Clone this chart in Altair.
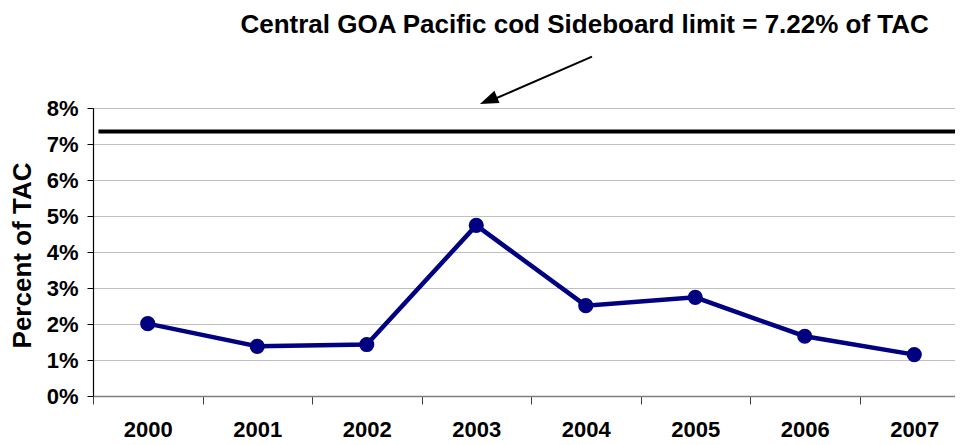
import altair as alt
import pandas as pd

years = [2000, 2001, 2002, 2003, 2004, 2005, 2006, 2007]
percent_of_tac = [2.01, 1.38, 1.43, 4.74, 2.51, 2.74, 1.66, 1.15]
limit_value = 7.35
title_text = "Central GOA Pacific cod Sideboard limit = 7.22% of TAC"
y_ticks = [0, 1, 2, 3, 4, 5, 6, 7, 8]
x_ticks = [1999.5, 2000, 2000.5, 2001, 2001.5, 2002, 2002.5, 2003, 2003.5,
           2004, 2004.5, 2005, 2005.5, 2006, 2006.5, 2007]

X_DOM = [1999.5, 2007.372]
Y_DOM = [0, 8]
FONT = "Liberation Sans"

df = pd.DataFrame({"year": years, "pct": percent_of_tac})
df_limit = pd.DataFrame({"year": [1999.55], "x2": [2007.372], "pct": [limit_value]})
df_arrow = pd.DataFrame({"year": [2004.057], "pct": [9.425], "x2": [2003.15], "y2": [8.23]})
df_head = pd.DataFrame({"year": [2003.12], "pct": [8.22]})
df_title = pd.DataFrame({"year": [2003.99], "pct": [10.3], "t": [title_text]})

xs = alt.Scale(domain=X_DOM, nice=False, zero=False)
ys = alt.Scale(domain=Y_DOM, nice=False, zero=False)

x_axis = alt.Axis(
    values=x_ticks, grid=False, domainColor="#808080", domainWidth=1.5,
    tickColor="#404040", tickSize=8, tickWidth=1,
    tickOpacity={"condition": {"test": "datum.value % 1 === 0", "value": 0}, "value": 1},
    labelExpr="datum.value % 1 === 0 ? '' + datum.value : ''",
    labelFont=FONT, labelFontSize=22, labelFontWeight="bold", labelColor="black",
    labelPadding=15, labelOverlap=False, labelFlush=False)
y_axis = alt.Axis(
    values=y_ticks, grid=True, gridColor="#c0c0c0", gridWidth=1.2,
    domainColor="black", domainWidth=1.2, tickColor="black", tickSize=6,
    labelExpr="datum.value + '%'", labelFont=FONT, labelFontSize=22,
    labelFontWeight="bold", labelColor="black", labelPadding=9,
    titleFont=FONT, titleFontSize=26, titleFontWeight="bold",
    titleColor="black", titleAngle=270, titleX=-71, titleY=147,
    titleAlign="center", titleBaseline="middle")

X = alt.X("year:Q", scale=xs, title=None, axis=x_axis)
Y = alt.Y("pct:Q", scale=ys, title="Percent of TAC", axis=y_axis)

line = alt.Chart(df).mark_line(color="#000080", strokeWidth=4.5, point=alt.OverlayMarkDef(
    color="#000080", size=230, filled=True, opacity=1)).encode(x=X, y=Y)

limit = alt.Chart(df_limit).mark_rule(color="black", strokeWidth=4).encode(
    x=X, x2="x2:Q", y=Y)

arrow = alt.Chart(df_arrow).mark_rule(color="black", strokeWidth=2).encode(
    x=X, x2="x2:Q", y=Y, y2="y2:Q")

head = alt.Chart(df_head).mark_point(
    shape="M0,-1L0.65,0.8L-0.65,0.8Z", filled=True, color="black", opacity=1,
    size=420, angle=247.3).encode(x=X, y=Y)

title = alt.Chart(df_title).mark_text(
    font=FONT, fontSize=26, fontWeight="bold", color="black",
    align="center", baseline="middle").encode(x=X, y=Y, text="t:N")

chart = alt.layer(line, limit, arrow, head, title).properties(
    width=862, height=288,
    padding={"left": 85, "top": 100, "right": 0, "bottom": 49},
    autosize=alt.AutoSizeParams(type="none"),
).configure_view(strokeWidth=0).configure(background="white")

chart.save("out.html", embed_options={"renderer": "svg", "actions": False})
